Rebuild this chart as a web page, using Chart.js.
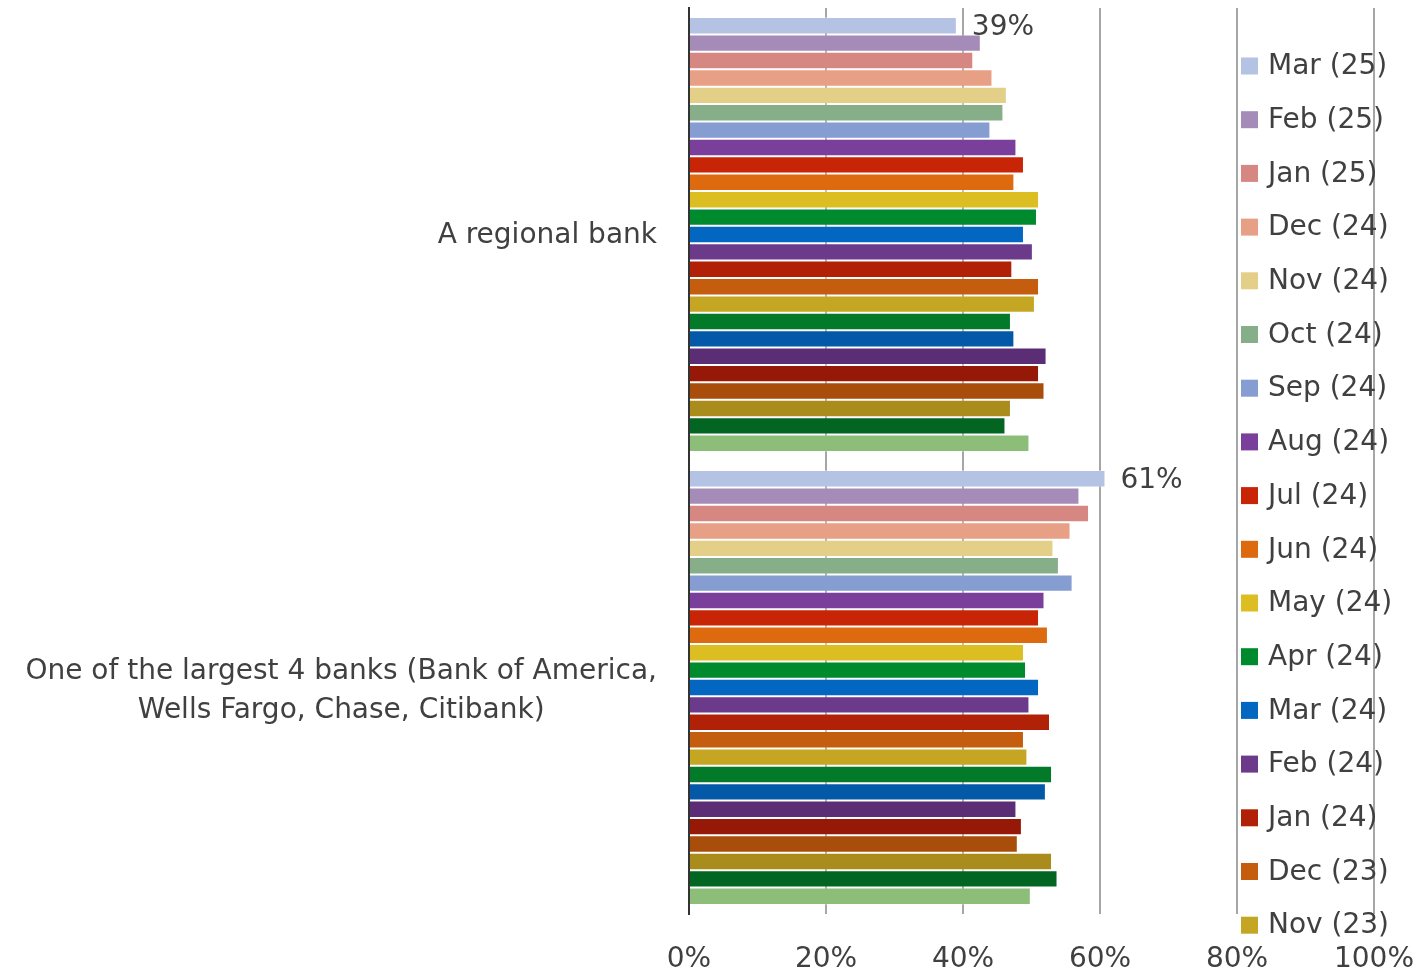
<!DOCTYPE html>
<html>
<head>
<meta charset="utf-8">
<script src="https://cdn.jsdelivr.net/npm/chart.js@4.4.1/dist/chart.umd.min.js"></script>
<style>
    body { margin: 0; background: #ffffff; }
    #wrap { width: 1418px; height: 974px; position: relative; }
</style>
</head>
<body>
<div id="wrap"><canvas id="chartBanks"></canvas></div>
<script>
// categorie (asse y)
let categories = [
    'A regional bank',
    ['One of the largest 4 banks (Bank of America,', 'Wells Fargo, Chase, Citibank)']
];

// mesi, dal più recente
let months = [
    'Mar (25)', 'Feb (25)', 'Jan (25)', 'Dec (24)', 'Nov (24)', 'Oct (24)', 'Sep (24)',
    'Aug (24)', 'Jul (24)', 'Jun (24)', 'May (24)', 'Apr (24)', 'Mar (24)', 'Feb (24)',
    'Jan (24)', 'Dec (23)', 'Nov (23)', 'Oct (23)', 'Sep (23)', 'Aug (23)', 'Jul (23)',
    'Jun (23)', 'May (23)', 'Apr (23)', 'Mar (23)'
];

let regionalValues = [
    39.1, 42.6, 41.5, 44.3, 46.4, 45.9, 44.0, 47.8, 48.9, 47.5, 51.1, 50.8, 48.9,
    50.2, 47.2, 51.1, 50.5, 47.0, 47.5, 52.2, 51.1, 51.9, 47.0, 46.2, 49.7
];

let bigFourValues = [
    60.8, 57.0, 58.4, 55.7, 53.2, 54.0, 56.0, 51.9, 51.1, 52.4, 48.9, 49.2, 51.1,
    49.7, 52.7, 48.9, 49.4, 53.0, 52.1, 47.8, 48.6, 48.0, 53.0, 53.8, 49.9
];

let monthColors = [
    '#b4c3e3', '#a58cb8', '#d78781', '#e79f85', '#e4cf88', '#86ae89', '#869dd2',
    '#7a3f9a', '#c82506', '#de6a10', '#dcbe22', '#008a2e', '#0366c1', '#6b3a8a',
    '#b12108', '#c45e0e', '#c4a622', '#027a29', '#0358a8', '#5a2d74', '#951906',
    '#a94d0b', '#a98c1c', '#036522', '#8cbe7a'
];

let xTicks = [0, 20, 40, 60, 80, 100];

const textColor = '#404040';
const fontFamily = '"DejaVu Sans", Verdana, sans-serif';
Chart.defaults.font.family = fontFamily;

let datasets = months.map(function(month, i) {
    return {
        label: month,
        data: [regionalValues[i], bigFourValues[i]],
        backgroundColor: monthColors[i],
        borderColor: 'rgba(255,255,255,0.3)',
        borderWidth: 1,
        categoryPercentage: 0.96,
        barPercentage: 1
    };
});

// etichette categorie: blocco allineato a destra, righe centrate
const categoryLabels = {
    id: 'categoryLabels',
    afterDraw: function(chart) {
        const ctx = chart.ctx;
        const yScale = chart.scales.y;
        const right = 657;
        const lineH = 39;
        ctx.save();
        ctx.font = '28px ' + fontFamily;
        ctx.fillStyle = textColor;
        ctx.textAlign = 'center';
        ctx.textBaseline = 'middle';
        categories.forEach(function(cat, i) {
            const lines = Array.isArray(cat) ? cat : [cat];
            const blockW = Math.max.apply(null, lines.map(function(l) { return ctx.measureText(l).width; }));
            const cy = yScale.getPixelForValue(i) + (lines.length > 1 ? 4 : 1);
            lines.forEach(function(line, j) {
                const y = cy + (j - (lines.length - 1) / 2) * lineH;
                ctx.fillText(line, right - blockW / 2, y);
            });
        });
        ctx.restore();
    }
};

// valore solo per l'ultimo mese
const valueLabels = {
    id: 'valueLabels',
    afterDatasetsDraw: function(chart) {
        const ctx = chart.ctx;
        const meta = chart.getDatasetMeta(0);
        ctx.save();
        ctx.font = '28px ' + fontFamily;
        ctx.fillStyle = textColor;
        ctx.textAlign = 'left';
        ctx.textBaseline = 'middle';
        meta.data.forEach(function(bar, i) {
            const v = chart.data.datasets[0].data[i];
            ctx.fillText(Math.round(v) + '%', bar.x + 15, bar.y + 2);
        });
        ctx.restore();
    }
};

// legenda sopra l'area del grafico, tagliata in basso come nell'originale
const sideLegend = {
    id: 'sideLegend',
    afterDraw: function(chart) {
        const ctx = chart.ctx;
        ctx.save();
        ctx.beginPath();
        ctx.rect(1230, 0, 188, 946);
        ctx.clip();
        ctx.font = '28px ' + fontFamily;
        ctx.textAlign = 'left';
        ctx.textBaseline = 'middle';
        chart.data.datasets.forEach(function(ds, i) {
            const y = 66 + i * 53.7;
            ctx.fillStyle = ds.backgroundColor;
            ctx.fillRect(1241, y - 8.5, 17, 17);
            ctx.fillStyle = textColor;
            ctx.fillText(ds.label, 1268, y + 1);
        });
        ctx.restore();
    }
};

let ctx1 = document.getElementById('chartBanks').getContext('2d');
let myChart = new Chart(ctx1, {
    type: 'bar',
    data: {
        labels: categories,
        datasets: datasets
    },
    options: {
        indexAxis: 'y',
        responsive: true,
        maintainAspectRatio: false,
        animation: false,
        layout: {
            padding: { left: 0, right: 44, top: 8, bottom: 0 }
        },
        plugins: {
            legend: { display: false },
            tooltip: { enabled: false }
        },
        scales: {
            x: {
                min: 0,
                max: 100,
                afterFit: function(scale) {
                    scale.height = 60;
                    scale.paddingLeft = 0;
                    scale.paddingRight = 0;
                },
                afterBuildTicks: function(scale) {
                    scale.ticks = xTicks.map(function(v) { return { value: v }; });
                },
                grid: {
                    color: '#a6a6a6',
                    lineWidth: 2,
                    drawTicks: false,
                    tickLength: 0
                },
                border: { display: false },
                ticks: {
                    padding: 29,
                    color: textColor,
                    font: { size: 28 },
                    maxRotation: 0,
                    callback: function(value) { return value + '%'; }
                }
            },
            y: {
                afterFit: function(scale) { scale.width = 689; },
                grid: { display: false, drawTicks: false },
                border: { display: true, color: '#333333', width: 2 },
                ticks: { display: false }
            }
        }
    },
    plugins: [categoryLabels, valueLabels, sideLegend]
});
</script>
</body>
</html>
